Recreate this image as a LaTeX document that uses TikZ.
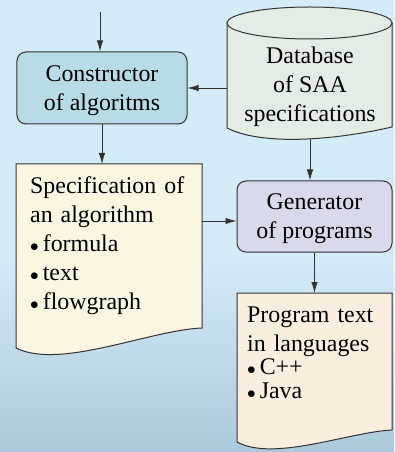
\documentclass[tikz,border=0pt]{standalone}
\usepackage{fontspec}
\setmainfont{Liberation Serif}
\usepackage{xcolor}
\usepackage{tikz}
\usetikzlibrary{arrows.meta}

\definecolor{bgtop}{HTML}{D4EBF8}
\definecolor{bgbottom}{HTML}{ACCADB}
\definecolor{constrfill}{HTML}{B8DCE7}
\definecolor{dbfill}{HTML}{E3EDE3}
\definecolor{specfill}{HTML}{FAF6E2}
\definecolor{genfill}{HTML}{D8D9EA}
\definecolor{progfill}{HTML}{FAEEDF}
\definecolor{edge}{HTML}{333333}

\newcommand{\listdot}{$\scriptstyle\bullet$\,}

\begin{document}
\begin{tikzpicture}[
    x=1bp, y=-1bp,
    font=\fontsize{24}{29}\selectfont,
    block/.style={
        rectangle, draw=edge,
        line width=1bp,
        align=center,
        rounded corners=9bp,
        text depth=0bp,
        inner sep=0pt
    },
    sheet/.style={draw=edge, line width=1bp},
    textblock/.style={
        rectangle,
        anchor=north west,
        align=left
    },
    arrow/.style={-{Latex[length=11bp,width=6.5bp]}, line width=0.9bp, draw=edge}
]

% Background
\useasboundingbox (0,0) rectangle (394,452);
\fill[bgtop] (0,0) rectangle (394,262);
\shade[top color=bgtop, bottom color=bgbottom] (0,261) rectangle (394,452);

% Database (cylinder)
\draw[sheet, fill=dbfill] (227,23) -- (227,128)
    .. controls (265,147) and (340,139) .. (392,127) -- (392,23) -- cycle;
\draw[sheet, fill=dbfill] (309.5,23) ellipse [x radius=82.5bp, y radius=16bp];
\node [textblock, anchor=north, align=center, minimum width=165bp,
       inner ysep=12.5bp] (database) at (310,34)
    {Database\\of SAA\\specifications};

% Constructor
\node [block, fill=constrfill, minimum width=170bp, minimum height=72bp]
    (constructor) at (102,88) {Constructor\\of algoritms};

% Specification (document)
\draw[sheet, fill=specfill] (16,164) -- (202,164) -- (202,328)
    .. controls (150,330) and (60,370) .. (16,348) -- cycle;
\node [textblock, text width=158bp, inner xsep=14bp, inner ysep=12.5bp]
    (spec) at (16,164)
    {Specification of\\an algorithm\\\listdot formula\\\listdot text\\\listdot flowgraph};

% Generator
\node [block, fill=genfill, minimum width=155bp, minimum height=71bp]
    (generator) at (314.5,216.5) {Generator\\of programs};

% Program text (document)
\draw[sheet, fill=progfill] (237,293) -- (392,293) -- (392,430)
    .. controls (349,432) and (274,462) .. (237,442) -- cycle;
\node [textblock, text width=135bp, inner xsep=10bp, inner ysep=13.5bp]
    (program) at (237,293)
    {Program text\\in languages\\[-6bp]\listdot C++\\[-5bp]\listdot Java};

% Arrows
\coordinate (input) at (100,12);
\coordinate (link) at ([yshift=-4.5bp]generator.west);
\draw [arrow] (input) -- (input |- constructor.north);
\draw [arrow] (database.west |- constructor.east) -- (constructor.east);
\draw [arrow] (constructor.south) -- (constructor.south |- spec.north);
\draw [arrow] (database.south) -- (database.south |- generator.north);
\draw [arrow] (link -| spec.east) -- (link);
\draw [arrow] (generator.south) -- (generator.south |- program.north);

\end{tikzpicture}
\end{document}
